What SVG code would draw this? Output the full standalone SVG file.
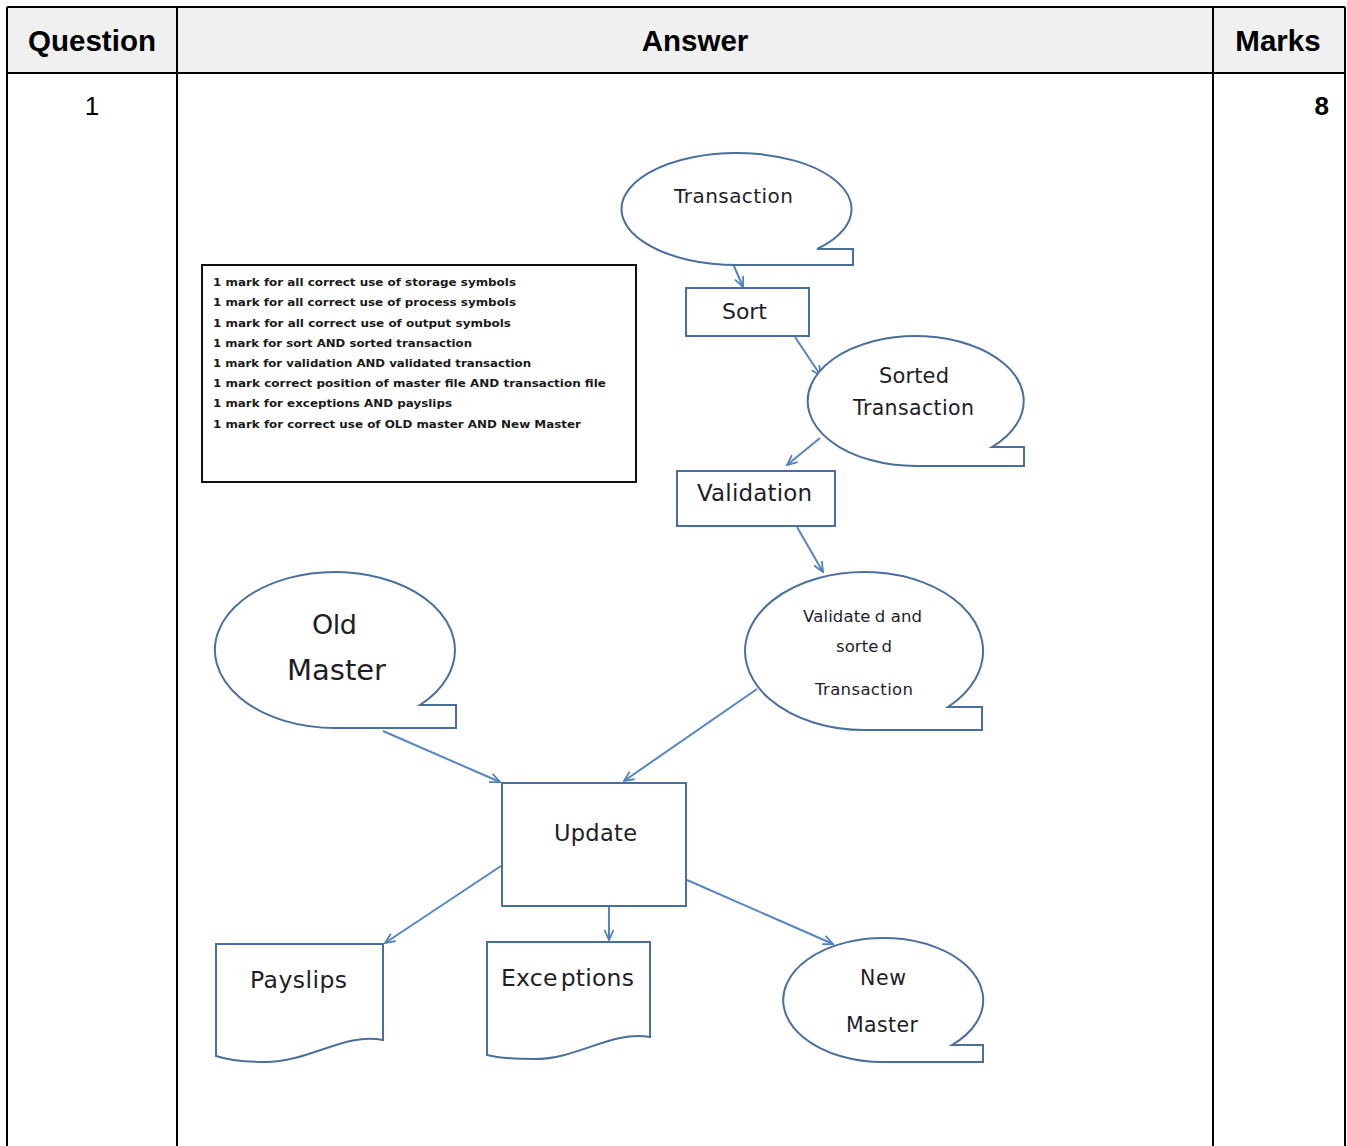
<svg xmlns="http://www.w3.org/2000/svg" width="1347" height="1146" viewBox="0 0 1347 1146">
<defs>
<marker id="arr" viewBox="0 0 12 12" refX="11" refY="6" markerWidth="12" markerHeight="12" markerUnits="userSpaceOnUse" orient="auto">
<path d="M1,1.5 L11,6 L1,10.5" fill="none" stroke="#4f81bd" stroke-width="1.8"/>
</marker>
</defs>
<style>
.tbl{fill:none;stroke:#000;stroke-width:2}
.hd{font-family:"Liberation Sans",Arial,sans-serif;font-weight:bold;font-size:29.5px;fill:#000;text-anchor:middle}
.cell{font-family:"Liberation Sans",Arial,sans-serif;font-size:26px;fill:#000}
.shp{fill:#fff;stroke:#4a6f9e;stroke-width:2}
.lbl{font-family:"DejaVu Sans",Verdana,sans-serif;fill:#1e1e2a;text-anchor:middle}
.con{fill:none;stroke:#5585c3;stroke-width:2;marker-end:url(#arr)}
.note{font-family:"DejaVu Sans",sans-serif;font-size:11px;font-weight:bold;fill:#1a1a1a}
</style>
<rect width="1347" height="1146" fill="#fff"/>
<g id="table">
<rect x="7" y="7" width="1338" height="66" fill="#f0f0f0"/>
<path class="tbl" d="M7,7 H1345 M7,73 H1345 M7,7 V1146 M177,7 V1146 M1213,7 V1146 M1345,7 V1146"/>
<text class="hd" x="92" y="51">Question</text>
<text class="hd" x="695" y="51">Answer</text>
<text class="hd" x="1278" y="51">Marks</text>
<text class="cell" x="92" y="115" text-anchor="middle">1</text>
<text class="cell" x="1329" y="115" text-anchor="end" font-weight="bold">8</text>
</g>
<g id="notes">
<rect x="202" y="265" width="434" height="217" fill="#fff" stroke="#111" stroke-width="2"/>
<text class="note" x="213" y="286" textLength="303" lengthAdjust="spacingAndGlyphs">1 mark for all correct use of storage  symbols</text>
<text class="note" x="213" y="306" textLength="303" lengthAdjust="spacingAndGlyphs">1 mark for all correct use of process symbols</text>
<text class="note" x="213" y="327" textLength="298" lengthAdjust="spacingAndGlyphs">1 mark for all correct use of output symbols</text>
<text class="note" x="213" y="347" textLength="259" lengthAdjust="spacingAndGlyphs">1 mark for sort AND sorted  transaction</text>
<text class="note" x="213" y="367" textLength="318" lengthAdjust="spacingAndGlyphs">1 mark for validation AND validated  transaction</text>
<text class="note" x="213" y="387" textLength="393" lengthAdjust="spacingAndGlyphs">1 mark correct  position of master file AND transaction  file</text>
<text class="note" x="213" y="407" textLength="239" lengthAdjust="spacingAndGlyphs">1 mark for exceptions AND payslips</text>
<text class="note" x="213" y="428" textLength="368" lengthAdjust="spacingAndGlyphs">1 mark for correct  use of OLD master AND New Master</text>
</g>
<g id="connectors">
<line class="con" x1="731" y1="259" x2="743" y2="287"/>
<line class="con" x1="795" y1="337" x2="821" y2="376"/>
<line class="con" x1="820" y1="438" x2="787" y2="465"/>
<line class="con" x1="797" y1="527" x2="823" y2="572"/>
<line class="con" x1="383" y1="731" x2="500" y2="782"/>
<line class="con" x1="757" y1="689" x2="624" y2="781"/>
<line class="con" x1="501" y1="866" x2="385" y2="943"/>
<line class="con" x1="609" y1="906" x2="609" y2="940"/>
<line class="con" x1="687" y1="880" x2="833" y2="944"/>
</g>
<g id="transaction">
<path class="shp" d="M737,265 A115,56 0 1 1 817,249 L853,249 L853,265 Z"/>
<text class="lbl" x="733.5" y="203" font-size="20" textLength="119">Transaction</text>
</g>
<g id="sort">
<rect class="shp" x="686" y="288" width="123" height="48"/>
<text class="lbl" x="744.5" y="319" font-size="22" textLength="45">Sort</text>
</g>
<g id="sorted">
<path class="shp" d="M916,466 A108,65 0 1 1 992,447 L1024,447 L1024,466 Z"/>
<text class="lbl" x="914" y="383" font-size="21" textLength="70">Sorted</text>
<text class="lbl" x="913.5" y="415" font-size="20.5" textLength="121">Transaction</text>
</g>
<g id="validation">
<rect class="shp" x="677" y="471" width="158" height="55"/>
<text class="lbl" x="754.5" y="501" font-size="23" textLength="115">Validation</text>
</g>
<g id="validated">
<path class="shp" d="M864,730 A119,79 0 1 1 948,707 L982,707 L982,730 Z"/>
<text class="lbl" x="862.5" y="622" font-size="16.5" textLength="119">Validate<tspan dx="4">d</tspan> and</text>
<text class="lbl" x="864" y="652" font-size="16.5" textLength="56">sorte<tspan dx="3">d</tspan></text>
<text class="lbl" x="864" y="695" font-size="16.5" textLength="98">Transaction</text>
</g>
<g id="oldmaster">
<path class="shp" d="M336,728 A120,78 0 1 1 420,705 L456,705 L456,728 Z"/>
<text class="lbl" x="334.5" y="634" font-size="27" textLength="45">Old</text>
<text class="lbl" x="336.5" y="680" font-size="29" textLength="99">Master</text>
</g>
<g id="update">
<rect class="shp" x="502" y="783" width="184" height="123"/>
<text class="lbl" x="595.5" y="841" font-size="22.5" textLength="83">Update</text>
</g>
<g id="payslips">
<path class="shp" d="M216,944 H383 V1040 C345,1032 310,1062 265,1062 C245,1062 228,1060 216,1056 Z"/>
<text class="lbl" x="298.5" y="988" font-size="23.5" textLength="97">Payslips</text>
</g>
<g id="exceptions">
<path class="shp" d="M487,942 H650 V1037 C612,1030 578,1059 535,1059 C515,1059 499,1058 487,1055 Z"/>
<text class="lbl" x="567.5" y="986" font-size="23.5" textLength="133">Exce<tspan dx="3">ptions</tspan></text>
</g>
<g id="newmaster">
<path class="shp" d="M883,1062 A100,62 0 1 1 952,1045 L983,1045 L983,1062 Z"/>
<text class="lbl" x="883" y="985" font-size="20.5" textLength="46">New</text>
<text class="lbl" x="882" y="1032" font-size="20.5" textLength="72">Master</text>
</g>
</svg>
